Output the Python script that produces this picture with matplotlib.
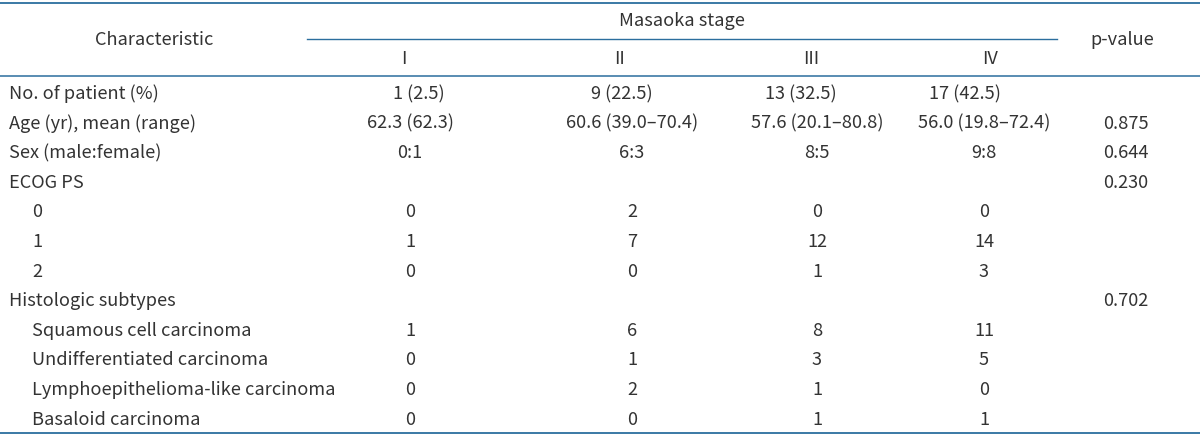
import matplotlib
matplotlib.use("Agg")
import matplotlib.pyplot as plt

# Données du tableau
row_labels = ["No. of patient (%)", "Age (yr), mean (range)", "Sex (male:female)", "ECOG PS",
              "0", "1", "2", "Histologic subtypes",
              "Squamous cell carcinoma", "Undifferentiated carcinoma",
              "Lymphoepithelioma-like carcinoma", "Basaloid carcinoma"]
row_indent = [0, 0, 0, 0, 1, 1, 1, 0, 1, 1, 1, 1]
stage_names = ["I", "II", "III", "IV"]
stage_I = ["1 (2.5)", "62.3 (62.3)", "0:1", "", "0", "1", "0", "", "1", "0", "0", "0"]
stage_II = ["9 (22.5)", "60.6 (39.0\u201370.4)", "6:3", "", "2", "7", "0", "", "6", "1", "2", "0"]
stage_III = ["13 (32.5)", "57.6 (20.1\u201380.8)", "8:5", "", "0", "12", "1", "", "8", "3", "1", "1"]
stage_IV = ["17 (42.5)", "56.0 (19.8\u201372.4)", "9:8", "", "0", "14", "3", "", "11", "5", "0", "1"]
p_values = ["", "0.875", "0.644", "0.230", "", "", "", "0.702", "", "", "", ""]

# Mise en page (en pixels)
largeur, hauteur = 1200, 437
couleur_ligne = "#2b6e9e"
couleur_texte = "#333333"
taille = 13.1
x_col = [410, 632, 817, 984]
x_col_premiere = [419, 622, 801, 965]  # la première ligne est décalée dans l'original
x_head = [404, 619, 811, 990]
x_p = 1126
y_premiere = 94
pas = 29.6

plt.rcParams['font.family'] = ['Noto Sans CJK KR', 'DejaVu Sans']

fig = plt.figure(figsize=(largeur / 100, hauteur / 100), dpi=100)
ax = fig.add_axes([0, 0, 1, 1])
ax.set_xlim(0, largeur)
ax.set_ylim(hauteur, 0)
ax.axis('off')

# Lignes horizontales
ax.plot([0, largeur], [3, 3], color=couleur_ligne, lw=1.3)
ax.plot([307, 1057], [39, 39], color=couleur_ligne, lw=1.0)
ax.plot([0, largeur], [76, 76], color=couleur_ligne, lw=1.1)
ax.plot([0, largeur], [433, 433], color=couleur_ligne, lw=1.3)

# En-tête
kw = dict(fontsize=taille, color=couleur_texte, va='center')
ax.text(154, 40, "Characteristic", ha='center', **kw)
ax.text(682, 21, "Masaoka stage", ha='center', **kw)
ax.text(x_p - 4, 40, "p-value", ha='center', **kw)
for x, nom in zip(x_head, stage_names):
    ax.text(x, 59, nom, ha='center', **kw)

# Corps du tableau
colonnes = [stage_I, stage_II, stage_III, stage_IV]
for i, label in enumerate(row_labels):
    y = y_premiere + i * pas
    ax.text(9 + 23 * row_indent[i], y, label, ha='left', **kw)
    xs = x_col_premiere if i == 0 else x_col
    for x, col in zip(xs, colonnes):
        ax.text(x, y, col[i], ha='center', **kw)
    ax.text(x_p, y, p_values[i], ha='center', **kw)

fig.savefig("out.png", dpi=100)
